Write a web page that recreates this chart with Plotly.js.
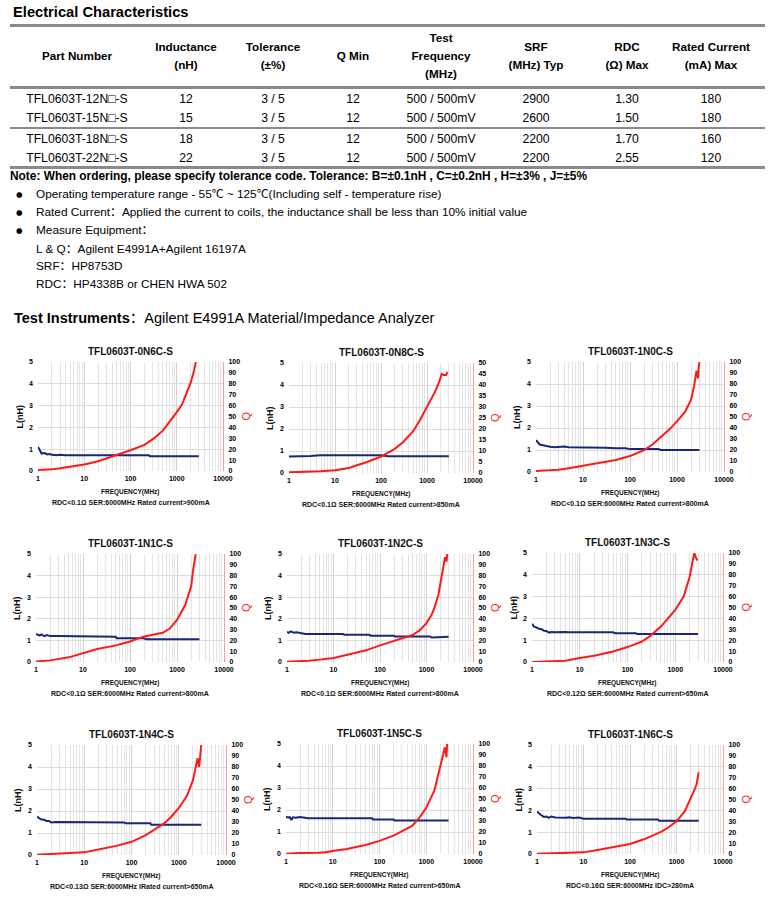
<!DOCTYPE html>
<html>
<head>
<meta charset="utf-8">
<script src="https://cdn.plot.ly/plotly-3.0.1.min.js"></script>
<style>
  html, body { margin:0; padding:0; background:#fff; }
  body { width:775px; height:901px; position:relative; overflow:hidden;
         font-family:"Liberation Sans", Arial, "Noto Sans CJK SC", sans-serif; color:#000; }
  .t { position:absolute; white-space:nowrap; transform:translateY(-50%); line-height:1; }
  .c { transform:translate(-50%,-50%); text-align:center; }
  .rule { position:absolute; left:10px; width:755px; background:#8a8a8a; }
  .chart { position:absolute; }
</style>
</head>
<body>
<div id="page"></div>
<script>
// ---------------- table data ----------------
const headerLines = [
  ["Part Number"],
  ["Inductance", "(nH)"],
  ["Tolerance", "(±%)"],
  ["Q Min"],
  ["Test", "Frequency", "(MHz)"],
  ["SRF", "(MHz) Typ"],
  ["RDC", "(Ω) Max"],
  ["Rated Current", "(mA) Max"]
];
const partNumbers = ["TFL0603T-12N\u25A1-S", "TFL0603T-15N\u25A1-S", "TFL0603T-18N\u25A1-S", "TFL0603T-22N\u25A1-S"];
const inductance = ["12", "15", "18", "22"];
const tolerance = ["3 / 5", "3 / 5", "3 / 5", "3 / 5"];
const qMin = ["12", "12", "12", "12"];
const testFreq = ["500 / 500mV", "500 / 500mV", "500 / 500mV", "500 / 500mV"];
const srfTyp = ["2900", "2600", "2200", "2200"];
const rdcMax = ["1.30", "1.50", "1.70", "2.55"];
const ratedCurrent = ["180", "180", "160", "120"];

const noteText = "Note: When ordering, please specify tolerance code. Tolerance: B=±0.1nH , C=±0.2nH , H=±3% , J=±5%";
const bullets = [
  "Operating temperature range - 55\u2103 ~ 125\u2103(Including self - temperature rise)",
  "Rated Current\uFF1AApplied the current to coils, the inductance shall be less than 10% initial value",
  "Measure Equipment\uFF1A"
];
const subItems = ["L & Q\uFF1AAgilent E4991A+Agilent 16197A", "SRF\uFF1AHP8753D", "RDC\uFF1AHP4338B or CHEN HWA 502"];

// ---------------- chart data ----------------
const chartTitles = ["TFL0603T-0N6C-S","TFL0603T-0N8C-S","TFL0603T-1N0C-S",
                     "TFL0603T-1N1C-S","TFL0603T-1N2C-S","TFL0603T-1N3C-S",
                     "TFL0603T-1N4C-S","TFL0603T-1N5C-S","TFL0603T-1N6C-S"];
const chartCaptions = [
  "RDC<0.1\u03A9 SER:6000MHz Rated current>900mA",
  "RDC<0.1\u03A9 SER:6000MHz Rated current>850mA",
  "RDC<0.1\u03A9 SER:6000MHz Rated current>800mA",
  "RDC<0.1\u03A9 SER:6000MHz Rated current>800mA",
  "RDC<0.1\u03A9 SER:6000MHz Rated current>800mA",
  "RDC<0.12\u03A9 SER:6000MHz Rated current>650mA",
  "RDC<0.13\u03A9 SER:6000MHz IRated current>650mA",
  "RDC<0.16\u03A9 SER:6000MHz Rated current>650mA",
  "RDC<0.16\u03A9 SER:6000MHz IDC>280mA"
];
const qAxisMax = [100, 50, 100, 100, 100, 100, 100, 100, 100];
const qAxisStep = [10, 5, 10, 10, 10, 10, 10, 10, 10];
const freqTickVals = [1, 10, 100, 1000, 10000];
const freqTickText = ["1", "10", "100", "1000", "10000"];

// 0N6C
const Lf1 = [1,1.1,1.2,1.4,1.6,1.8,2,2.5,3,4,5,7,10,50,100,250,260,3000];
const Lv1 = [1.1,0.95,0.8,0.82,0.76,0.78,0.74,0.72,0.74,0.72,0.72,0.73,0.72,0.72,0.72,0.72,0.68,0.68];
const Qf1 = [1,2,3,5,10,20,30,50,100,200,300,500,700,1000,1300,1600,2000,2300,2600];
const Qv1 = [1,1.5,2.5,4,6,9,11.5,15,19,24,29,37,45,54,61,70,81,90,100];
// 0N8C
const Lf2 = [1,2,3,4,5,100,120,140,3000];
const Lv2 = [0.75,0.75,0.77,0.8,0.81,0.81,0.8,0.76,0.76];
const Qf2 = [1,3,5,10,20,30,50,100,200,300,500,700,1000,1500,1800,2000,2100,2300,2600,2800];
const Qv2 = [0.3,0.5,0.8,1.2,2.3,3.5,5,7.5,11,14,19,24,30,37,41,44,45,44.5,44.5,46];
// 1N0C
const Lf3 = [1,1.1,1.2,1.4,1.7,2,2.5,3,4,5,10,20,25,30,50,80,100,400,450,3000];
const Lv3 = [1.45,1.35,1.25,1.22,1.2,1.15,1.12,1.14,1.16,1.13,1.13,1.13,1.1,1.1,1.08,1.08,1.04,1.04,1.0,1.0];
const Qf3 = [1,2,3,5,10,20,50,100,200,300,500,700,1000,1500,2000,2300,2600,2800,2900,3000];
const Qv3 = [1,1.5,2,3.5,5.5,8,11,14.5,20,25,33.5,39,46,55,66,78,92,85,95,100];
// 1N1C
const Lf4 = [1,1.2,1.3,1.5,1.7,2,3,5,5.5,10,12,14,50,52,200,220,3000];
const Lv4 = [1.3,1.22,1.28,1.2,1.25,1.2,1.2,1.2,1.17,1.17,1.2,1.17,1.17,1.1,1.1,1.05,1.05];
const Qf4 = [1,2,5,10,20,50,100,200,500,700,1000,1500,2000,2200,2500];
const Qv4 = [0.5,1.5,4.3,8.3,12,15.4,19,23.7,27,31,39,53,70,85,100];
// 1N2C
const Lf5 = [1,1.1,1.2,1.4,1.6,2,2.5,3,16,17,60,62,200,210,1200,1300,1600,1800,3000];
const Lv5 = [1.4,1.35,1.42,1.36,1.38,1.33,1.3,1.3,1.3,1.26,1.26,1.22,1.22,1.18,1.18,1.13,1.14,1.17,1.17];
const Qf5 = [1,2,3,5,10,20,50,100,200,500,700,1000,1300,1500,1800,2000,2300,2500,2700,2800];
const Qv5 = [0.3,0.5,1.2,2.2,3.7,6.8,10.8,15.4,19.7,25,29,36,44,51,62,75,88,97,93,100];
// 1N3C
const Lf6 = [1,1.1,1.2,1.4,1.6,1.8,2,2.3,2.6,3,5,6,50,55,150,160,3000];
const Lv6 = [1.75,1.62,1.6,1.52,1.5,1.43,1.42,1.35,1.38,1.37,1.38,1.36,1.36,1.32,1.32,1.28,1.28];
const Qf6 = [1,2,3,5,10,20,50,100,200,300,500,700,1000,1500,2000,2300,2500,2700,2900];
const Qv6 = [0,0.3,0.6,1.2,3.6,5.8,9.7,13.7,18.8,24,32.5,40,47.7,60,78,92,100,96,93];
// 1N4C
const Lf7 = [1,1.1,1.2,1.4,1.6,1.8,2,2.5,3,5,8,10,15,70,75,250,260,3000];
const Lv7 = [1.75,1.68,1.62,1.6,1.55,1.55,1.48,1.5,1.5,1.48,1.5,1.48,1.5,1.48,1.44,1.44,1.38,1.38];
const Qf7 = [1,2,5,10,20,50,100,200,500,700,1000,1500,2000,2300,2500,2700,2900,3000];
const Qv7 = [0.3,1,1.5,2.4,5,8.5,12,18,29,35,42.5,54,68,80,88,80,92,100];
// 1N5C
const Lf8 = [1,1.1,1.2,1.3,1.4,1.6,2,2.5,3,10,70,72,200,210,3000];
const Lv8 = [1.7,1.65,1.68,1.55,1.67,1.65,1.68,1.64,1.62,1.62,1.62,1.57,1.57,1.52,1.52];
const Qf8 = [1,2,5,7,10,20,50,100,200,500,700,1000,1500,2000,2300,2500,2700,2800];
const Qv8 = [0.3,1,1.2,1.5,2.7,4.5,8.2,11.9,16.7,25.5,32.5,42,58,80,90,97,88,100];
// 1N6C
const Lf9 = [1,1.1,1.2,1.4,1.6,1.8,2,2.5,3,4,5,6,8,10,80,85,400,420,3000];
const Lv9 = [1.95,1.85,1.8,1.7,1.72,1.66,1.72,1.67,1.66,1.66,1.68,1.65,1.67,1.62,1.62,1.58,1.58,1.53,1.53];
const Qf9 = [1,4,10,20,50,100,200,500,700,1000,1500,2000,2500,2700,2900,3000];
const Qv9 = [0.2,0.6,1.5,3.7,6.7,9.2,13.5,21,25,30,39,50,60,64,70,75];

const Lfreqs = [Lf1,Lf2,Lf3,Lf4,Lf5,Lf6,Lf7,Lf8,Lf9];
const Lvals  = [Lv1,Lv2,Lv3,Lv4,Lv5,Lv6,Lv7,Lv8,Lv9];
const Qfreqs = [Qf1,Qf2,Qf3,Qf4,Qf5,Qf6,Qf7,Qf8,Qf9];
const Qvals  = [Qv1,Qv2,Qv3,Qv4,Qv5,Qv6,Qv7,Qv8,Qv9];

// ---------------- layout (positions) ----------------
const page = document.getElementById('page');
function txt(s, x, y, opt) {
  opt = opt || {};
  const d = document.createElement('div');
  d.className = 't' + (opt.center ? ' c' : '');
  d.style.left = x + 'px'; d.style.top = y + 'px';
  d.style.fontSize = (opt.size || 12) + 'px';
  if (opt.bold) d.style.fontWeight = 'bold';
  if (opt.family) d.style.fontFamily = opt.family;
  if (opt.html) d.innerHTML = s; else d.textContent = s;
  page.appendChild(d);
  return d;
}
function rule(y, h) {
  const d = document.createElement('div');
  d.className = 'rule'; d.style.top = y + 'px'; d.style.height = h + 'px';
  page.appendChild(d);
}

txt("Electrical Characteristics", 13, 12, {size:14.7, bold:true});
rule(24, 3);

const colX = [77, 186, 273, 353, 441, 536, 627, 711];
headerLines.forEach((lines, i) => {
  const n = lines.length;
  const start = 56 - (n - 1) * 9;
  lines.forEach((s, k) => txt(s, colX[i], start + k * 18, {size:11.7, bold:true, center:true}));
});
rule(86, 3);

const rowY = [99, 118, 139, 158];
const cols = [partNumbers, inductance, tolerance, qMin, testFreq, srfTyp, rdcMax, ratedCurrent];
cols.forEach((col, i) => col.forEach((s, r) => txt(s, colX[i], rowY[r], {size:12.2, center:true})));
rule(127, 2);
rule(166, 3);

txt(noteText, 10, 177, {size:11.9, bold:true});
const bulletY = [195, 213, 231];
bullets.forEach((s, i) => {
  txt("\u25CF", 16, bulletY[i], {size:7.5, family:"DejaVu Sans"});
  txt(s, 36, bulletY[i], {size:11.8});
});
const subY = [250, 267, 285];
subItems.forEach((s, i) => txt(s, 36, subY[i], {size:11.8}));
txt("<b>Test Instruments</b>\uFF1AAgilent E4991A Material/Impedance Analyzer", 14, 318, {size:14.5, html:true});

// chart plot-area boxes: [left, right, top, bottom] in page px
const boxes = [
  [38, 223, 362, 471], [289, 473, 363, 473], [536, 724, 362, 472],
  [36, 224, 554, 662], [287, 473, 554, 662], [532, 723, 553, 662],
  [37, 226, 745, 855], [286, 473, 744, 854], [537, 723, 745, 854]
];
const ML = 40, MR = 42, MT = 28, MB = 44;
const FONT = "Liberation Sans, Arial, sans-serif";

boxes.forEach((b, i) => {
  const [l, r, t, bt] = b;
  const d = document.createElement('div');
  d.className = 'chart';
  d.style.left = (l - ML) + 'px'; d.style.top = (t - MT) + 'px';
  const W = (r - l) + ML + MR, H = (bt - t) + MT + MB;
  d.style.width = W + 'px'; d.style.height = H + 'px';
  page.appendChild(d);

  const traces = [
    {x: Lfreqs[i], y: Lvals[i], type:'scatter', mode:'lines', yaxis:'y',
     line:{color:'#1b2678', width:2}, hoverinfo:'skip'},
    {x: Qfreqs[i], y: Qvals[i], type:'scatter', mode:'lines', yaxis:'y2',
     line:{color:'#ff1a1a', width:2}, hoverinfo:'skip'}
  ];
  const tickFont = {family:FONT, size:7, color:'#000', weight:'bold'};
  const layout = {
    width: W, height: H,
    margin: {l:ML, r:MR, t:MT, b:MB, pad:0},
    paper_bgcolor:'rgba(0,0,0,0)', plot_bgcolor:'#fff',
    showlegend:false,
    xaxis: {type:'log', range:[0,4], tickmode:'array', tickvals:freqTickVals, ticktext:freqTickText,
            showgrid:true, gridcolor:'#d2d2d2', gridwidth:1, zeroline:false, showline:false,
            ticks:'', tickfont:tickFont, ticklabelstandoff:2,
            minor:{dtick:'D1', showgrid:true, gridcolor:'#e4e4e4', gridwidth:1, ticks:''}},
    yaxis: {range:[0,5], dtick:1, showgrid:true, gridcolor:'#dcdcdc', zeroline:false, showline:false,
            ticks:'', tickfont:tickFont, ticklabelstandoff:4},
    yaxis2: {range:[0, qAxisMax[i]], dtick:qAxisStep[i], overlaying:'y', side:'right', showgrid:false,
             zeroline:false, showline:true, linecolor:'#f5a0a0', linewidth:1, ticks:'',
             tickfont:tickFont, ticklabelstandoff:3},
    annotations: [
      {text:chartTitles[i], xref:'paper', yref:'paper', x:0.5, y:1, yshift:11, yanchor:'middle',
       showarrow:false, font:{family:FONT, size:10, weight:'bold', color:'#111'}},
      {text:'FREQUENCY(MHz)', xref:'paper', yref:'paper', x:0.5, y:0, yshift:-21, yanchor:'middle',
       showarrow:false, font:{family:FONT, size:6.5, weight:'bold', color:'#111'}},
      {text:chartCaptions[i], xref:'paper', yref:'paper', x:0.5, y:0, yshift:-31, yanchor:'middle',
       showarrow:false, font:{family:FONT, size:7, weight:'bold', color:'#111'}},
      {text:'L(nH)', xref:'paper', yref:'paper', x:0, y:0.5, xshift:-19, xanchor:'center', yanchor:'middle',
       textangle:-90, showarrow:false, font:{family:FONT, size:9, weight:'bold', color:'#111'}},
      {text:'Q', xref:'paper', yref:'paper', x:1, y:0.5, xshift:22, xanchor:'center', yanchor:'middle',
       textangle:-90, showarrow:false, font:{family:FONT, size:11, color:'#ff1a1a'}}
    ]
  };
  Plotly.newPlot(d, traces, layout, {staticPlot:true, displayModeBar:false});
});
</script>
</body>
</html>
